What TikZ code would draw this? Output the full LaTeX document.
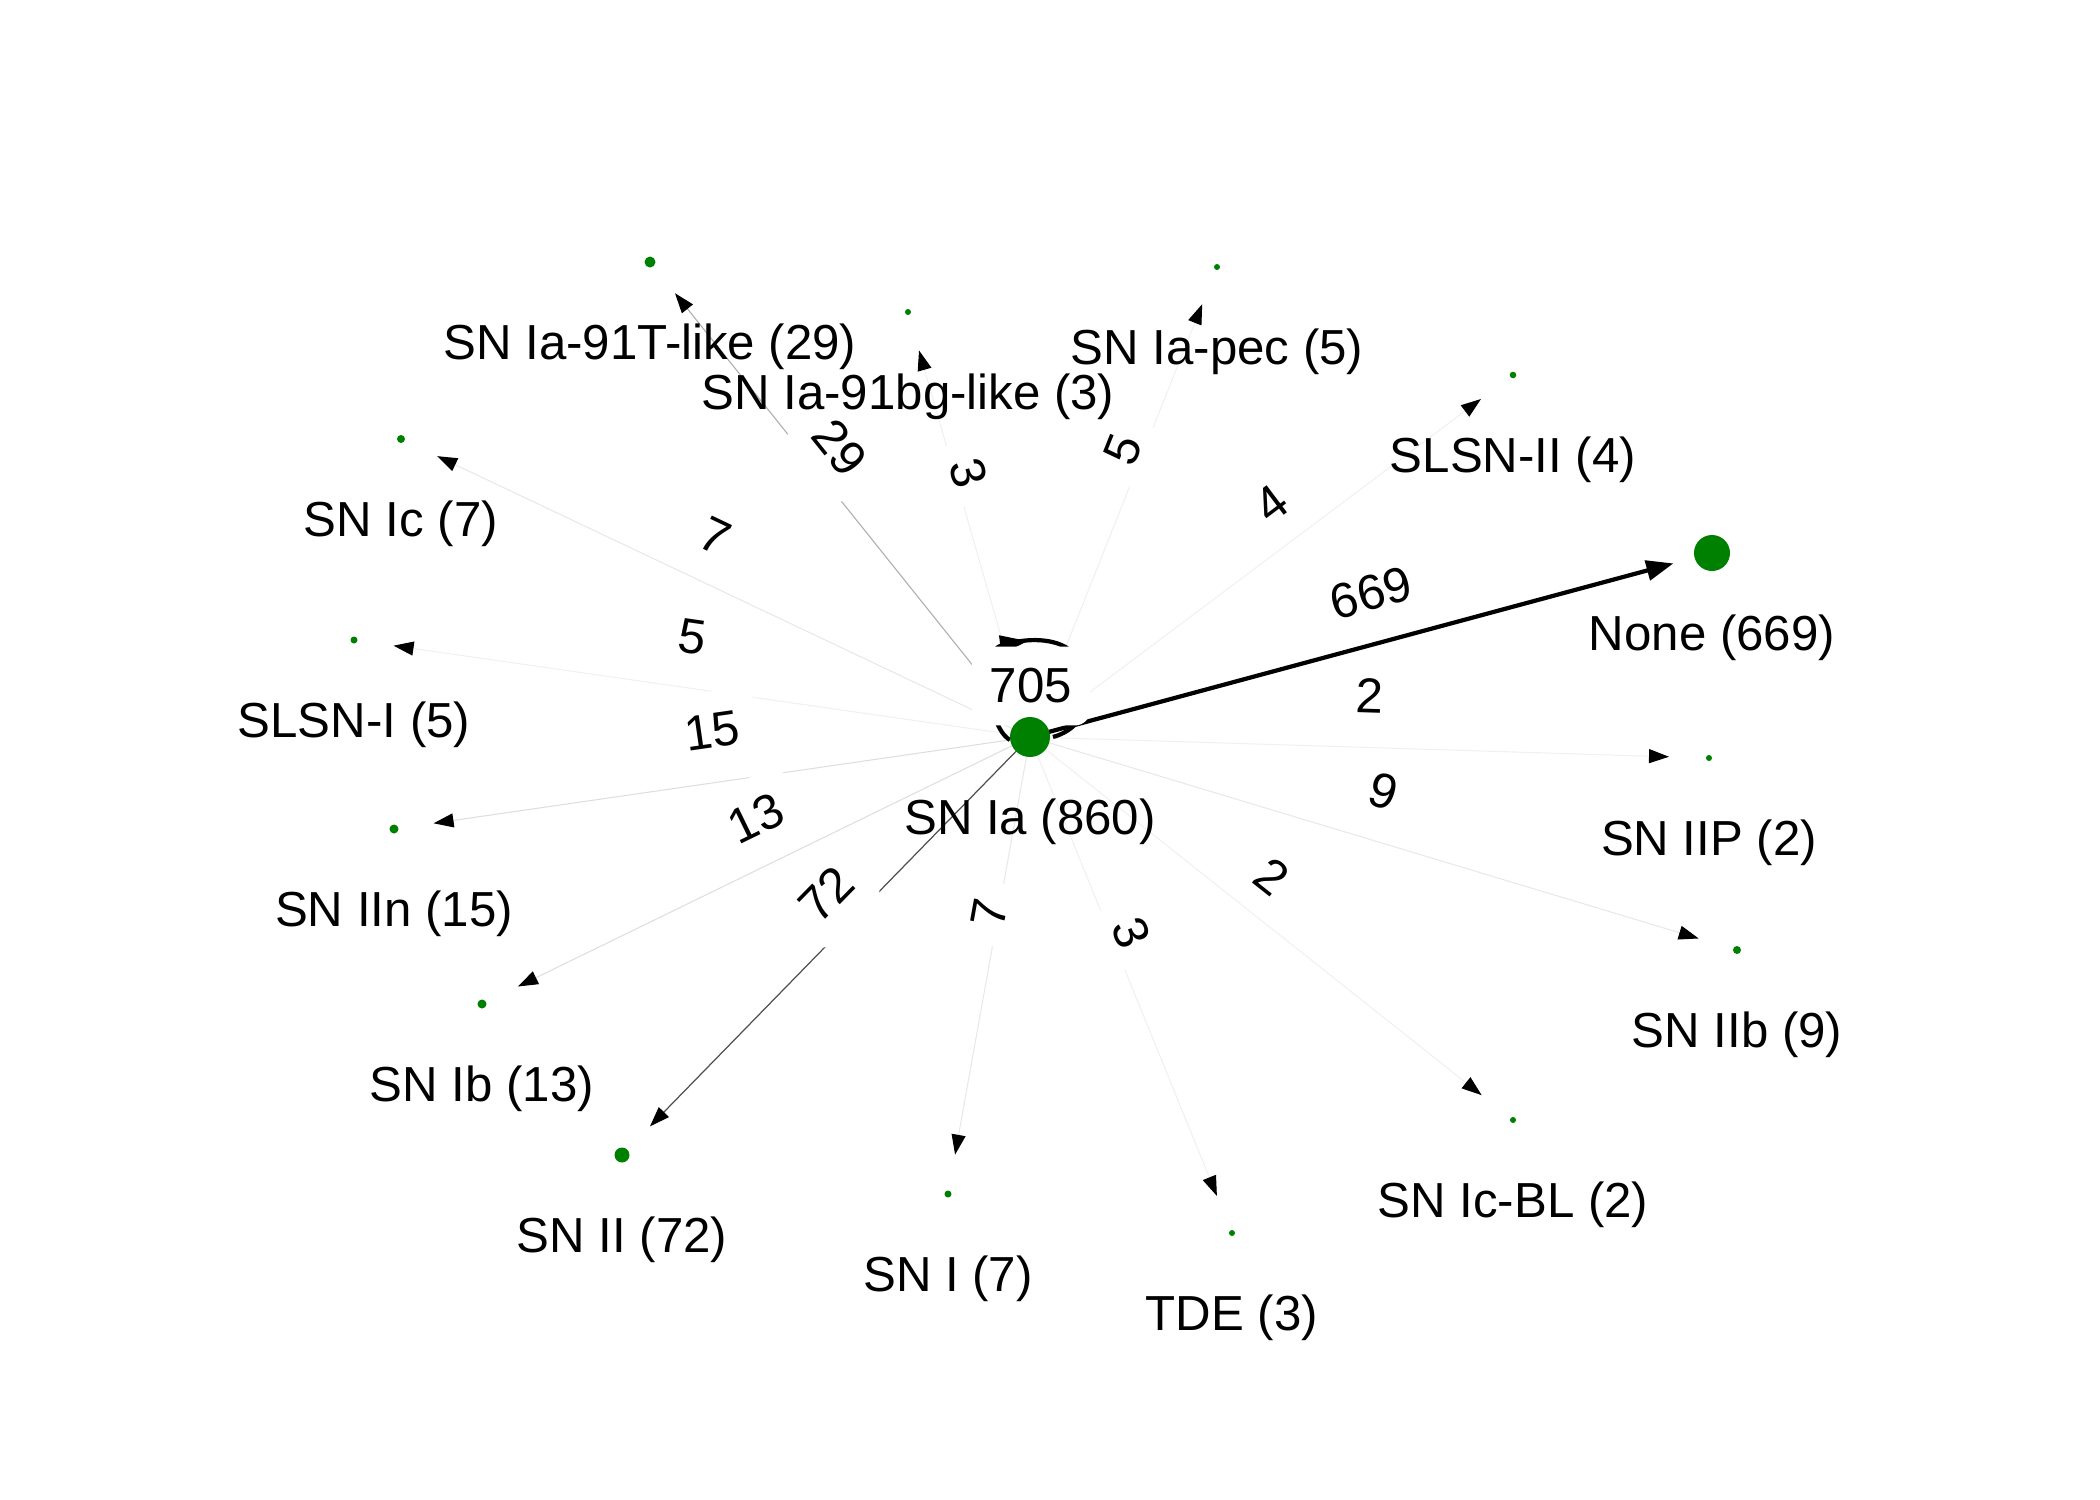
\documentclass[tikz,border=0pt]{standalone}
\usepackage{fontspec}
\setmainfont{Liberation Sans}
\usetikzlibrary{arrows.meta,calc,backgrounds}
\definecolor{mplgreen}{HTML}{008000}
\definecolor{g72}{HTML}{505050}
\definecolor{g29}{HTML}{ABABAB}
\definecolor{g15}{HTML}{DEDEDE}
\definecolor{g9}{HTML}{E8E8E8}
\definecolor{glow}{HTML}{F0F0F0}
\tikzset{
  dot/.style={circle,fill=mplgreen,draw=none,inner sep=0pt,minimum size=#1},
  nlab/.style={font=\fontsize{14}{16}\selectfont,inner sep=0pt},
  elab/.style={font=\fontsize{14}{16}\selectfont,fill=white,inner xsep=0.18cm,inner ysep=0.22cm,rounded corners=0.15cm},
  ebase/.style={shorten >=0.40cm,-{Triangle[length=0.2cm,width=0.14cm,color=black]}},
  e669/.style={ebase,black,line width=1.2pt,-{Triangle[length=0.27cm,width=0.2cm]}},
  e72/.style={ebase,g72,line width=0.35pt},
  e29/.style={ebase,g29,line width=0.3pt},
  e15/.style={ebase,g15,line width=0.3pt},
  e9/.style={ebase,g9,line width=0.3pt},
  elow/.style={ebase,glow,line width=0.3pt},
  loopst/.style={black,line width=1.2pt}
}
\begin{document}
\begin{tikzpicture}
\useasboundingbox (0,0) rectangle (21,-15);
% nodes
\node[dot=0.40cm] (c) at (10.30,-7.37) {};
\node[dot=0.36cm] (none) at (17.12,-5.53) {};
\node[dot=0.11cm] (t91T) at (6.50,-2.62) {};
\node[dot=0.06cm] (t91bg) at (9.08,-3.12) {};
\node[dot=0.06cm] (pec) at (12.17,-2.67) {};
\node[dot=0.066cm] (slsn2) at (15.13,-3.75) {};
\node[dot=0.08cm] (ic) at (4.01,-4.39) {};
\node[dot=0.07cm] (slsn1) at (3.54,-6.40) {};
\node[dot=0.09cm] (iin) at (3.94,-8.29) {};
\node[dot=0.09cm] (ib) at (4.82,-10.04) {};
\node[dot=0.15cm] (ii) at (6.22,-11.55) {};
\node[dot=0.07cm] (sni) at (9.48,-11.94) {};
\node[dot=0.06cm] (tde) at (12.32,-12.33) {};
\node[dot=0.06cm] (icbl) at (15.13,-11.20) {};
\node[dot=0.08cm] (iib) at (17.37,-9.50) {};
\node[dot=0.06cm] (iip) at (17.09,-7.58) {};
% node labels
\node[nlab] (l-c) at ($(c)+(0,-0.85)$) {SN Ia (860)};
\node[nlab] (l-none) at ($(none)+(0,-0.85)$) {None (669)};
\node[nlab] (l-t91T) at ($(t91T)+(0,-0.85)$) {SN Ia-91T-like (29)};
\node[nlab] (l-t91bg) at ($(t91bg)+(0,-0.85)$) {SN Ia-91bg-like (3)};
\node[nlab] (l-pec) at ($(pec)+(0,-0.85)$) {SN Ia-pec (5)};
\node[nlab] (l-slsn2) at ($(slsn2)+(0,-0.85)$) {SLSN-II (4)};
\node[nlab] (l-ic) at ($(ic)+(0,-0.85)$) {SN Ic (7)};
\node[nlab] (l-slsn1) at ($(slsn1)+(0,-0.85)$) {SLSN-I (5)};
\node[nlab] (l-iin) at ($(iin)+(0,-0.85)$) {SN IIn (15)};
\node[nlab] (l-ib) at ($(ib)+(0,-0.85)$) {SN Ib (13)};
\node[nlab] (l-ii) at ($(ii)+(0,-0.85)$) {SN II (72)};
\node[nlab] (l-sni) at ($(sni)+(0,-0.85)$) {SN I (7)};
\node[nlab] (l-tde) at ($(tde)+(0,-0.85)$) {TDE (3)};
\node[nlab] (l-icbl) at ($(icbl)+(0,-0.85)$) {SN Ic-BL (2)};
\node[nlab] (l-iib) at ($(iib)+(0,-0.85)$) {SN IIb (9)};
\node[nlab] (l-iip) at ($(iip)+(0,-0.85)$) {SN IIP (2)};
\begin{scope}[on background layer]
% edges
\foreach \t/\s in {t91T/e29, t91bg/elow, pec/elow, slsn2/elow, ic/e9, slsn1/elow, iin/e15, ib/e15, ii/e72, sni/e9, tde/elow, icbl/elow, iib/e9, iip/elow, none/e669}{
  \draw[\s] (c.center) -- (\t.center);
}
% self loop
\draw[loopst] ($(c)+(-0.20,-0.03)$) .. controls ($(c)+(-0.45,0.12)$) and ($(c)+(-0.45,0.87)$) .. ($(c)+(-0.30,0.91)$)
  .. controls ($(c)+(0,1.01)$) and ($(c)+(0.25,0.97)$) .. ($(c)+(0.37,0.89)$)
  .. controls ($(c)+(0.65,0.57)$) and ($(c)+(0.65,0.12)$) .. ($(c)+(0.23,0)$);
\draw[line width=1.2pt,-{Triangle[length=0.28cm,width=0.18cm]}] ($(c)+(-0.24,0.93)$) -- ($(c)+(-0.02,0.96)$);
% edge labels
\node[elab] (el-c) at ($(c)+(0.01,0.51)$) {705};
\foreach \t/\l/\a in {none/669/15.1, t91T/29/-51.3, t91bg/3/-74.0, pec/5/68.3, slsn2/4/36.9, ic/7/-25.4, slsn1/5/-8.2, iin/15/8.2, ib/13/26.0, ii/72/45.6, sni/7/79.8, tde/3/-67.8, icbl/2/-38.4, iib/9/-16.8, iip/2/-1.8}{
  \node[elab,rotate=\a] (el-\t) at ($(c)!0.5!(\t)+(0,0.52)$) {\l};
}
\end{scope}
\end{tikzpicture}
\end{document}
